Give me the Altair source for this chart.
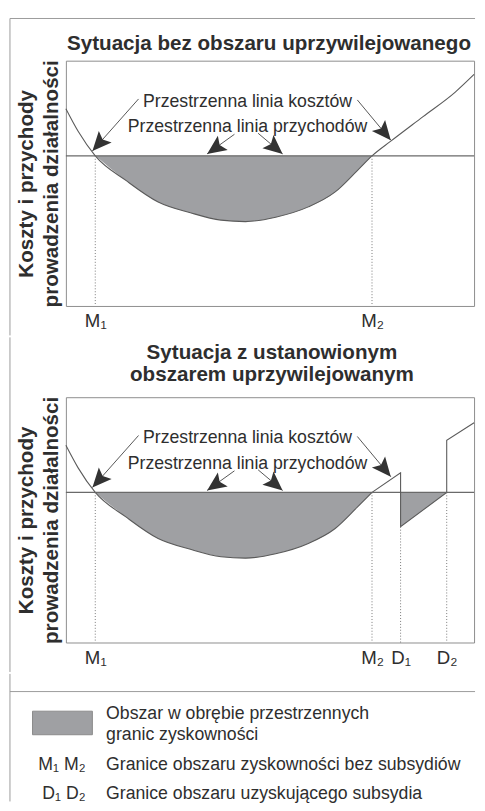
import altair as alt
import pandas as pd

NARROW = "Liberation Sans Narrow, Arial Narrow, Liberation Sans, Arial, sans-serif"
BOLD = "Liberation Sans, Arial, sans-serif"
TEXT = "#2e2e2e"
LINE = "#5a5a5a"
FRAME = "#9a9a9a"
FILL = "#9fa0a3"

# ---------------- data (x: position 0-100, y: cost / revenue level 0-100) -------------
revenue_level = 61.2

cost_x = [0, 3, 7.2, 14.7, 22.6, 30.5, 38, 44, 51.4, 59.4, 65.9, 71.4, 75, 79.6, 87.5, 95.4, 100]
cost_y = [80.4, 71.2, 61.2, 51.2, 42.4, 38.0, 35.0, 34.4, 36.2, 40.4, 46.4, 55.2, 61.2, 67.2, 77.2, 87.2, 94.4]

# panel 2: cost line after M2 (with subsidised zone D1-D2)
sub_x = [75, 82, 82, 93.3, 93.3, 100]
sub_y = [61.2, 69.2, 47.2, 61.2, 82.4, 89.6]

bound_names_1 = ["M₁", "M₂"]
bound_x_1 = [7.2, 75]
bound_top_1 = [61.2, 61.2]

bound_names_2 = ["M₁", "M₂", "D₁", "D₂"]
bound_x_2 = [7.2, 75, 82, 93.3]
bound_top_2 = [61.2, 61.2, 47.2, 61.2]

annot_text = ["Przestrzenna linia kosztów", "Przestrzenna linia przychodów"]
annot_x = [44.5, 44.5]
annot_y = [81.2, 70.8]

arrow_x0 = [17.8, 71.4, 41.3, 47.1]
arrow_y0 = [84.4, 84.0, 70.0, 70.4]
arrow_x1 = [6.5, 79.6, 34.6, 53.1]
arrow_y1 = [63.2, 67.6, 62.0, 62.0]
arrow_angle = [222, 140, 235, 130]

title_1 = "Sytuacja bez obszaru uprzywilejowanego"
title_2 = ["Sytuacja z ustanowionym", "obszarem uprzywilejowanym"]
y_title = ["Koszty i przychody", "prowadzenia działalności"]

legend_swatch_text = ["Obszar w obrębie przestrzennych", "granic zyskowności"]
legend_keys = ["M₁  M₂", "D₁  D₂"]
legend_desc = ["Granice obszaru zyskowności bez subsydiów", "Granice obszaru uzyskującego subsydia"]

# ---------------- helpers -------------
W, H = 416, 250
XS = alt.Scale(domain=[0, 100], nice=False, zero=False)
YS = alt.Scale(domain=[0, 100], nice=False, zero=False)
ONE = alt.Data(values=[{}])
ARROW = "M0,0L0.9,2L0,1.6L-0.9,2Z"


def vrule(x, y, y2):
    return alt.Chart(ONE).mark_rule(color=FRAME, strokeWidth=1).encode(
        x=alt.value(x), y=alt.value(y), y2=alt.value(y2))


def hrule(x, x2, y):
    return alt.Chart(ONE).mark_rule(color=FRAME, strokeWidth=1).encode(
        x=alt.value(x), x2=alt.value(x2), y=alt.value(y))


def label_expr(names, xs):
    e = ""
    for n, v in zip(names, xs):
        e += f"datum.value == {v} ? '{n}' : "
    return e + "''"


def panel(title_lines, title_x, title_y, with_subsidy, bx, btop, bnames, top_line, frame_from, frame_to):
    xa = alt.Axis(values=bx, labelExpr=label_expr(bnames, bx), title=None, ticks=False,
                  domain=False, grid=False, labelFont=BOLD, labelFontSize=19,
                  labelColor=TEXT, labelPadding=6, labelFlush=False, labelOverlap=False)
    ya = alt.Axis(title=y_title, titleFont=BOLD, titleFontWeight="bold", titleFontSize=21,
                  titleColor=TEXT, labels=False, ticks=False, domain=False, grid=False,
                  titlePadding=5, titleLineHeight=25)
    X = lambda f: alt.X(f, scale=XS, axis=xa)
    Y = lambda f: alt.Y(f, scale=YS, axis=ya)

    if with_subsidy:
        cx = [v for v in cost_x if v <= 75]
        cy = cost_y[:len(cx)]
    else:
        cx, cy = cost_x, cost_y
    curve = pd.DataFrame({"x": cx, "y": cy})

    shade_rows = [{"x": a, "y": b, "seg": 0} for a, b in zip(cost_x, cost_y) if 7.2 <= a <= 75]
    if with_subsidy:
        shade_rows += [{"x": sub_x[2], "y": sub_y[2], "seg": 1}, {"x": sub_x[3], "y": sub_y[3], "seg": 1}]
    shade = pd.DataFrame(shade_rows)

    layers = []
    layers.append(alt.Chart(shade).mark_area(interpolate="monotone", color=FILL, opacity=1).encode(
        x=X("x:Q"), y=Y("y:Q"), y2=alt.datum(revenue_level), detail="seg:N"))
    layers.append(alt.Chart(pd.DataFrame({"y": [revenue_level]})).mark_rule(color="#6a6a6a", strokeWidth=1.2).encode(
        y=Y("y:Q")))
    layers.append(alt.Chart(curve).mark_line(interpolate="monotone", color=LINE, strokeWidth=1.1).encode(
        x=X("x:Q"), y=Y("y:Q")))
    if with_subsidy:
        poly = pd.DataFrame({"x": sub_x, "y": sub_y, "i": list(range(len(sub_x)))})
        layers.append(alt.Chart(poly).mark_line(color=LINE, strokeWidth=1.1).encode(
            x=X("x:Q"), y=Y("y:Q"), order="i:Q"))
    layers.append(alt.Chart(pd.DataFrame({"x": bx, "top": btop})).mark_rule(
        color="#777777", strokeWidth=1, strokeDash=[1, 2]).encode(
        x=X("x:Q"), y=Y("top:Q"), y2=alt.datum(0)))
    layers.append(alt.Chart(pd.DataFrame({"t": annot_text, "x": annot_x, "y": annot_y})).mark_text(
        font=NARROW, fontSize=18, color=TEXT, align="center", baseline="alphabetic").encode(
        x=X("x:Q"), y=Y("y:Q"), text="t:N"))
    arrows = pd.DataFrame({"x0": arrow_x0, "y0": arrow_y0, "x1": arrow_x1, "y1": arrow_y1, "a": arrow_angle})
    layers.append(alt.Chart(arrows).mark_rule(color="#555555", strokeWidth=1).encode(
        x=X("x0:Q"), y=Y("y0:Q"), x2="x1:Q", y2="y1:Q"))
    layers.append(alt.Chart(arrows).mark_point(shape=ARROW, filled=True, size=380, opacity=1,
                                               color="#333333", strokeWidth=0).encode(
        x=X("x1:Q"), y=Y("y1:Q"), angle=alt.Angle("a:Q", scale=None)))
    layers.append(alt.Chart(ONE).mark_text(font=BOLD, fontWeight="bold", fontSize=21, color=TEXT,
                                           align="center", baseline="alphabetic", lineHeight=22).encode(
        x=alt.value(title_x), y=alt.value(title_y), text=alt.value(title_lines)))
    layers.append(vrule(-57, frame_from, frame_to))
    if top_line:
        layers.append(hrule(-57, 417, frame_from))
    return alt.layer(*layers).properties(width=W, height=H)


p1 = panel(title_1, 207, -11, False, bound_x_1, bound_top_1, bound_names_1, True, -43, 280)
p2 = panel(title_2, 210, -39, True, bound_x_2, bound_top_2, bound_names_2, False, -61, 280)

# ---------------- legend -------------
leg_layers = [
    hrule(-57, 417, 18),
    vrule(-57, 0, 130),
    alt.Chart(ONE).mark_rect(color=FILL, stroke="#8a8a8a", strokeWidth=1).encode(
        x=alt.value(-34), x2=alt.value(27), y=alt.value(38), y2=alt.value(62)),
]
txt = dict(font=NARROW, fontSize=18, color=TEXT, baseline="alphabetic")
leg_layers.append(alt.Chart(ONE).mark_text(align="left", lineHeight=21, **txt).encode(
    x=alt.value(41), y=alt.value(46), text=alt.value(legend_swatch_text)))
for i, (k, d) in enumerate(zip(legend_keys, legend_desc)):
    yy = [98, 127][i]
    leg_layers.append(alt.Chart(ONE).mark_text(align="right", **txt).encode(
        x=alt.value(20), y=alt.value(yy), text=alt.value(k)))
    leg_layers.append(alt.Chart(ONE).mark_text(align="left", **txt).encode(
        x=alt.value(41), y=alt.value(yy), text=alt.value(d)))
legend = alt.layer(*leg_layers).properties(width=W, height=110,
                                           view=alt.ViewBackground(strokeOpacity=0))

chart = alt.vconcat(p1, p2, legend, spacing=0).properties(
    padding={"left": 1, "top": 2, "right": 0, "bottom": 0}
).configure_view(stroke="#8c8c8c", strokeWidth=1)

chart.save("out.html", embed_options={"renderer": "svg", "actions": False})
